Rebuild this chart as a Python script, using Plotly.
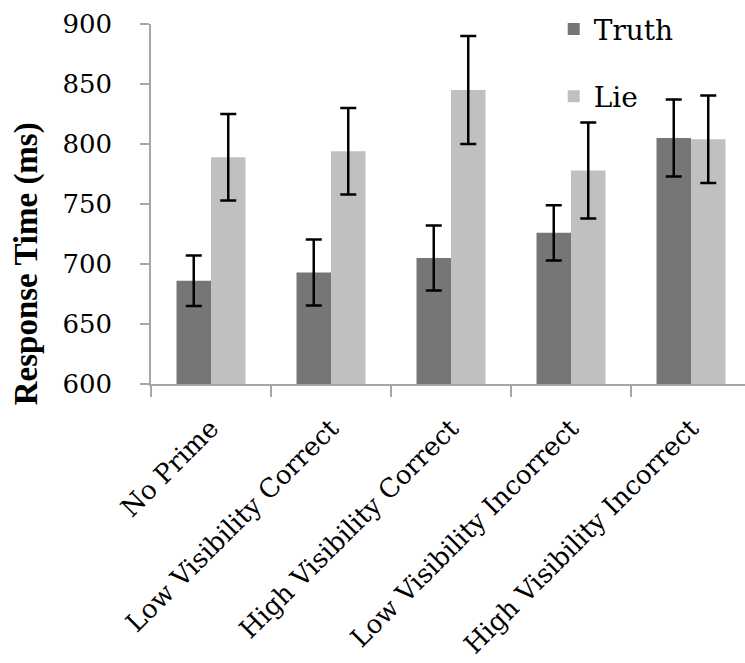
import plotly.graph_objects as go

# Mean response times (ms) per prime condition, with error bar half-widths
conditions = ["No Prime", "Low Visibility Correct", "High Visibility Correct",
              "Low Visibility Incorrect", "High Visibility Incorrect"]
truth_rt = [686, 693, 705, 726, 805]
truth_err = [21, 27.5, 27, 23, 32]
lie_rt = [789, 794, 845, 778, 804]
lie_err = [36, 36, 45, 40, 36.5]
y_ticks = [600, 650, 700, 750, 800, 850, 900]

serif = "DejaVu Serif"
title_serif = "Liberation Serif"
axis_grey = "#a6a6a6"

fig = go.Figure()
fig.add_trace(go.Bar(
    name="Truth", x=conditions, y=truth_rt, legendgroup="truth",
    marker=dict(color="#767676", line=dict(width=0)),
    error_y=dict(type="data", array=truth_err, color="black", thickness=2.5, width=8),
))
fig.add_trace(go.Bar(
    name="Lie", x=conditions, y=lie_rt, legendgroup="lie",
    marker=dict(color="#c0c0c0", line=dict(width=0)),
    error_y=dict(type="data", array=lie_err, color="black", thickness=2.5, width=8),
))

fig.update_layout(
    width=745, height=663, autosize=False,
    margin=dict(l=151, r=0, t=24, b=279, autoexpand=False),
    paper_bgcolor="white", plot_bgcolor="white",
    barmode="group", bargap=0.425, bargroupgap=0,
    font=dict(family=serif, size=28, color="black"),
    legend=dict(
        x=0.678, y=1.055, xanchor="left", yanchor="top",
        font=dict(family=serif, size=28),
        traceorder="grouped", tracegroupgap=28,
        bgcolor="rgba(0,0,0,0)",
    ),
    annotations=[dict(
        text="<b>Response Time (ms)</b>", textangle=-90,
        xref="paper", yref="paper", x=-0.209, y=0.335,
        xanchor="center", yanchor="middle", showarrow=False,
        font=dict(family=title_serif, size=33, color="black"),
    )],
)

fig.update_xaxes(
    type="category", range=[-0.5, 4.45], automargin=False,
    tickangle=-45, tickson="boundaries",
    ticks="outside", ticklen=11, tickwidth=1.5, tickcolor=axis_grey,
    ticklabelstandoff=17,
    showline=True, linecolor=axis_grey, linewidth=1.5,
    showgrid=False, zeroline=False,
    tickfont=dict(family=serif, size=26),
)
fig.update_yaxes(
    range=[600, 900], tickvals=y_ticks, automargin=False,
    ticks="outside", ticklen=9, tickwidth=1.5, tickcolor=axis_grey,
    ticklabelstandoff=23,
    showline=True, linecolor=axis_grey, linewidth=1.5,
    showgrid=False, zeroline=False,
    tickfont=dict(family=serif, size=26),
)

fig.write_html("out.html")
